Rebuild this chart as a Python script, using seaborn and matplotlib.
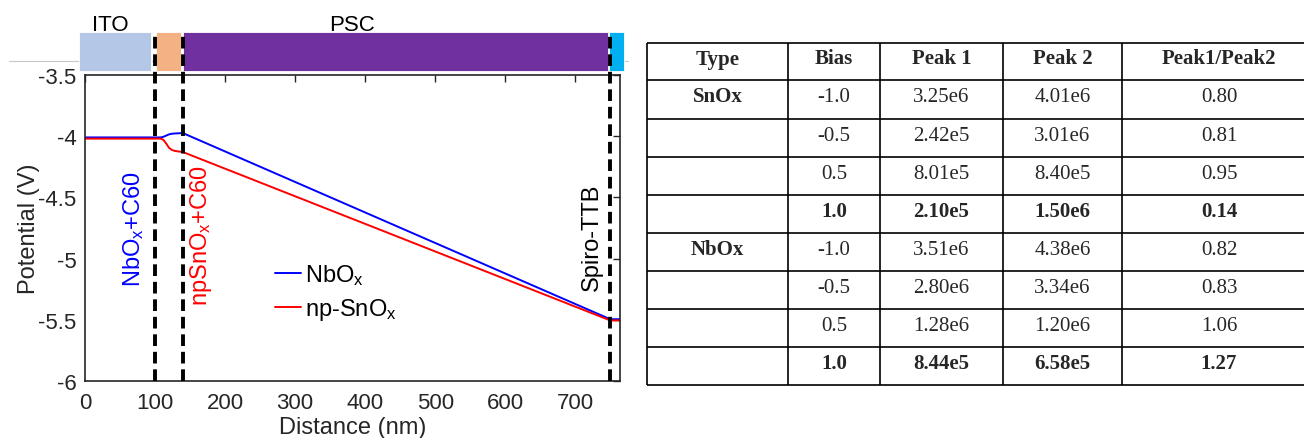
import matplotlib
matplotlib.use("Agg")
import matplotlib.pyplot as plt
import seaborn as sns
import pandas as pd
from matplotlib.lines import Line2D

# ---------------- data ----------------
distance_nm = [0, 100, 108, 112, 116, 120, 124, 128, 134, 140, 750, 765]
nbox_V = [-4.01, -4.01, -4.01, -4.005, -3.995, -3.985, -3.98, -3.978, -3.976, -3.975, -5.495, -5.495]
snox_V = [-4.02, -4.02, -4.02, -4.03, -4.06, -4.095, -4.112, -4.12, -4.125, -4.13, -5.505, -5.505]
series_labels = ["NbO$_\\mathregular{x}$", "np-SnO$_\\mathregular{x}$"]

interfaces_nm = [100, 140, 750]

layer_names = ["ITO", "", "PSC", ""]
layer_start = [-8.6, 101.4, 140.0, 748.6]
layer_end = [94.3, 137.0, 747.0, 770.0]
layer_colors = ["#B4C7E7", "#F4B183", "#7030A0", "#00B0F0"]

xticks = [0, 100, 200, 300, 400, 500, 600, 700]
yticks = [-6, -5.5, -5, -4.5, -4, -3.5]
ytick_labels = ["-6", "-5.5", "-5", "-4.5", "-4", "-3.5"]

col_headers = ["Type", "Bias", "Peak 1", "Peak 2", "Peak1/Peak2"]
type_col = ["SnOx", "", "", "", "NbOx", "", "", ""]
bias_col = ["-1.0", "-0.5", "0.5", "1.0", "-1.0", "-0.5", "0.5", "1.0"]
peak1_col = ["3.25e6", "2.42e5", "8.01e5", "2.10e5", "3.51e6", "2.80e6", "1.28e6", "8.44e5"]
peak2_col = ["4.01e6", "3.01e6", "8.40e5", "1.50e6", "4.38e6", "3.34e6", "1.20e6", "6.58e5"]
ratio_col = ["0.80", "0.81", "0.95", "0.14", "0.82", "0.83", "1.06", "1.27"]
bold_rows = [3, 7]

# ---------------- style ----------------
sns.set_theme(style="white")
plt.rcParams["font.family"] = ["Liberation Sans", "DejaVu Sans"]
plt.rcParams["mathtext.fontset"] = "custom"
plt.rcParams["mathtext.rm"] = "Liberation Sans"
plt.rcParams["mathtext.it"] = "Liberation Sans"
dark = "#262626"

W, H = 1304, 439
fig = plt.figure(figsize=(W / 100, H / 100), dpi=100)

def fx(px):
    return px / W

def fy(py):
    return 1 - py / H

ax_left, ax_right, ax_top, ax_bot = 85, 620, 76, 382

# thin gray line behind the layer bar
fig.add_artist(Line2D([fx(9), fx(628)], [fy(62), fy(62)], color="#c8c8c8", lw=0.8, zorder=-1))

# layer bar axes
ax_bar = fig.add_axes([fx(ax_left), fy(72), fx(ax_right - ax_left), (72 - 33) / H])
for s, e, c in zip(layer_start, layer_end, layer_colors):
    ax_bar.barh(0.5, e - s, left=s, height=1.0, color=c, edgecolor="white", linewidth=0.6, clip_on=False)
ax_bar.set_xlim(0, 764)
ax_bar.set_ylim(0, 1)
ax_bar.axis("off")
ax_bar.text((110 - 85) / 0.7, 1.2, "ITO", ha="center", va="center", fontsize=16, color="black", clip_on=False)
ax_bar.text((352 - 85) / 0.7, 1.2, "PSC", ha="center", va="center", fontsize=16, color="black", clip_on=False)

# main axes
ax = fig.add_axes([fx(ax_left), fy(ax_bot), fx(ax_right - ax_left), (ax_bot - ax_top) / H])
ax.set_zorder(2)
ax.patch.set_alpha(0)

df = pd.DataFrame({
    "Distance": distance_nm * 2,
    "Potential": nbox_V + snox_V,
    "Layer": [series_labels[0]] * len(distance_nm) + [series_labels[1]] * len(distance_nm),
})
sns.lineplot(data=df, x="Distance", y="Potential", hue="Layer",
             palette=["#0000FF", "#FF0000"], estimator=None, sort=False,
             linewidth=1.4, ax=ax)

ax.set_xlim(0, 764)
ax.set_ylim(-6, -3.5)
ax.set_xticks(xticks)
ax.set_xticklabels([str(t) for t in xticks])
ax.set_yticks(yticks)
ax.set_yticklabels(ytick_labels)
ax.tick_params(direction="in", top=True, right=True, length=5, width=1.0,
               colors=dark, labelsize=16, labelcolor=dark)
ax.tick_params(axis="x", pad=8)
ax.tick_params(axis="y", pad=6)
for sp in ax.spines.values():
    sp.set_color(dark)
    sp.set_linewidth(1.2)

ax.set_xlabel("Distance (nm)", fontsize=17, color=dark)
ax.set_ylabel("Potential (V)", fontsize=17, color=dark)
ax.xaxis.set_label_coords(0.5, -0.113)
ax.xaxis.label.set_va("top")
ax.yaxis.set_label_coords(-0.085, 0.5)

ymax_ext = 1 + (ax_top - 33) / (ax_bot - ax_top)
for xi in interfaces_nm:
    ax.axvline(xi, ymin=0, ymax=ymax_ext, color="black", lw=2.8,
               linestyle=(0, (3.0, 1.5)), clip_on=False, zorder=5)

ax.text(69, -4.754, "NbO$_\\mathregular{x}$+C60", rotation=90, color="#0000FF",
        fontsize=17, ha="center", va="center")
ax.text(166, -4.80, "npSnO$_\\mathregular{x}$+C60", rotation=90, color="#FF0000",
        fontsize=17, ha="center", va="center")
ax.text(724, -4.82, "Spiro-TTB", rotation=90, color="black",
        fontsize=17, ha="center", va="center")

leg = ax.legend(loc="upper left", bbox_to_anchor=((275 - ax_left) / 535, (ax_bot - 263) / 306),
                frameon=False, fontsize=17, handlelength=1.1, handletextpad=0.15,
                borderpad=0, borderaxespad=0, labelspacing=0.4)
for t in leg.get_texts():
    t.set_color("black")

# ---------------- table ----------------
tab_left, tab_right, tab_top, tab_bot = 647, 1316, 44, 386
tab = fig.add_axes([fx(tab_left), fy(tab_bot), (tab_right - tab_left) / W, (tab_bot - tab_top) / H])
tab.set_xlim(0, tab_right - tab_left)
tab.set_ylim(tab_bot - tab_top, 0)
tab.axis("off")

col_edges = [0, 141, 233, 356, 475, 669]
n_rows = 1 + len(bias_col)
row_h = (tab_bot - tab_top) / n_rows
row_edges = [i * row_h for i in range(n_rows + 1)]
row_edges[1] = 36.7
tab.hlines(row_edges, col_edges[0], col_edges[-1], color="black", lw=1.2, clip_on=False)
tab.vlines(col_edges, row_edges[0], row_edges[-1], color="black", lw=1.2, clip_on=False)

serif = ["Liberation Serif", "DejaVu Serif"]
centers = [(col_edges[i] + col_edges[i + 1]) / 2 for i in range(5)]
for j, h in enumerate(col_headers):
    tab.text(centers[j], row_edges[0] + 20.5, h, ha="center", va="baseline",
             fontsize=15, family=serif, weight="bold")
columns = [type_col, bias_col, peak1_col, peak2_col, ratio_col]
for i in range(len(bias_col)):
    top = row_edges[i + 1]
    for j, col in enumerate(columns):
        bold = (j == 0) or (i in bold_rows)
        tab.text(centers[j], top + 21.5, col[i], ha="center", va="baseline",
                 fontsize=15, family=serif, weight="bold" if bold else "normal")

fig.savefig("out.png", dpi=100)
